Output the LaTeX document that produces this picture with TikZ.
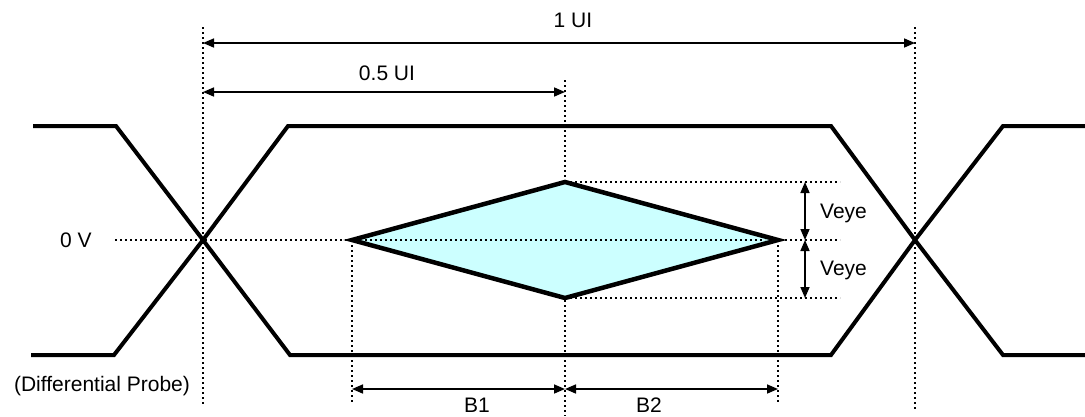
\documentclass[tikz,border=0pt]{standalone}
\usepackage{fontspec}
\setmainfont{Liberation Sans}
\usetikzlibrary{arrows.meta}
\definecolor{eyefill}{RGB}{204,255,255}
\begin{document}
\begin{tikzpicture}[x=1pt,y=-1pt,
  wave/.style={line width=4pt,line join=miter},
  dots/.style={line width=2pt,dash pattern=on 2pt off 3pt},
  dim/.style={line width=1.6pt,{Triangle[length=11pt,width=9pt]}-{Triangle[length=11pt,width=9pt]}},
  lbl/.style={font=\fontsize{21}{21}\selectfont,inner sep=0pt}]
\useasboundingbox (0,0) rectangle (1085,416);
% key coordinates
\coordinate (xl) at (203,240);
\coordinate (xr) at (915,240);
\coordinate (dl) at (352,240);
\coordinate (dt) at (565,182);
\coordinate (dr) at (778,240);
\coordinate (db) at (565,298);
% dotted guides
\draw[dots] (203,27) -- (203,406);
\draw[dots] (915,27) -- (915,410);
\draw[dots] (565,80) -- (565,416);
\draw[dots] (115,240) -- (840,240);
\draw[dots] (dt) -- (840,182);
\draw[dots] (db) -- (840,298);
\draw[dots] (dl) -- (352,402);
\draw[dots] (dr) -- (778,404);
% waveforms
\draw[wave] (33,126) -- (116,126) -- (xl) -- (290,355) -- (831,355) -- (xr) -- (1003,126) -- (1085,126);
\draw[wave] (31,355) -- (114,355) -- (xl) -- (288,126) -- (831,126) -- (xr) -- (1003,355) -- (1085,355);
% eye diamond
\filldraw[fill=eyefill,line width=4.5pt,line join=miter] (dl) -- (dt) -- (dr) -- (db) -- cycle;
\draw[dots] (365,240) -- (765,240);
% dimension arrows
\coordinate (a1l) at (203,43); \coordinate (a1r) at (915,43);
\draw[dim] (a1l) -- (a1r);
\coordinate (a2l) at (203,92); \coordinate (a2r) at (565,92);
\draw[dim] (a2l) -- (a2r);
\coordinate (v1) at (805,182); \coordinate (v2) at (805,240); \coordinate (v3) at (805,298);
\draw[dim] (v1) -- (v2);
\draw[dim] (v2) -- (v3);
\coordinate (b1) at (352,389); \coordinate (b2) at (565,389); \coordinate (b3) at (778,389);
\draw[dim] (b1) -- (b2);
\draw[dim] (b2) -- (b3);
% labels
\node[lbl] (t1) at (573,20) {1 UI};
\node[lbl] (t2) at (387,73) {0.5 UI};
\node[lbl] (t0) at (76,240) {0 V};
\node[lbl] (tp) at (102,386) {(Differential Probe)};
\node[lbl,anchor=west] (tv1) at (820,213) {Veye};
\node[lbl,anchor=west] (tv2) at (820,270) {Veye};
\node[lbl] (tb1) at (477,405) {B1};
\node[lbl] (tb2) at (649,405) {B2};
\end{tikzpicture}
\end{document}
